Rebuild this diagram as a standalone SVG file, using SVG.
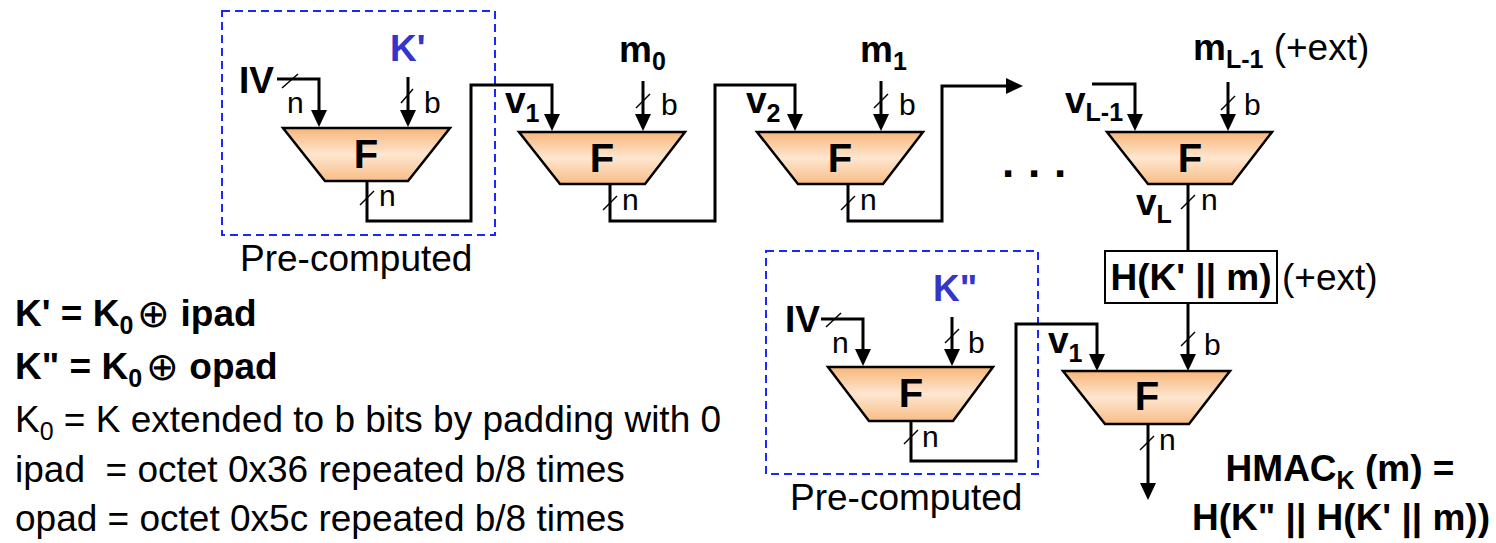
<svg xmlns="http://www.w3.org/2000/svg" width="1496" height="543" viewBox="0 0 1496 543">
<style>
text{font-family:"Liberation Sans",Arial,sans-serif;fill:#000}
.b{font-weight:bold;font-size:37px}
.n{font-size:37px}
.s{font-size:30px}
.f{font-weight:bold;font-size:40px;text-anchor:middle}
.blue{fill:#3535c8}
.sub{font-size:25px}
.ox{font-weight:200;font-family:"DejaVu Sans",sans-serif;font-size:39px}
.trap{fill:url(#g);stroke:#000;stroke-width:2.5;stroke-linejoin:miter}
.dash{fill:none;stroke:#1a28ff;stroke-width:2;stroke-dasharray:8 5}
.c{fill:none;stroke:#000;stroke-width:3}
.a{marker-end:url(#ah)}
.sl{stroke:#000;stroke-width:1.5}
</style>
<defs>
<linearGradient id="g" x1="0" y1="0" x2="0" y2="1">
<stop offset="0" stop-color="#f7b67a"/>
<stop offset="0.5" stop-color="#fee6d0"/>
<stop offset="1" stop-color="#f8bd86"/>
</linearGradient>
<marker id="ah" markerUnits="userSpaceOnUse" markerWidth="17" markerHeight="16" viewBox="0 0 17 16" refX="7" refY="8" orient="auto">
<path d="M0,0 L17,8 L0,16 z" fill="#000"/>
</marker>
</defs>

<g id="precomp1">
<rect class="dash" x="222" y="11" width="273" height="224"/>
<text class="n" x="240" y="271">Pre-computed</text>
</g>
<g id="precomp2">
<rect class="dash" x="766" y="251" width="272" height="223"/>
<text class="n" x="790" y="510">Pre-computed</text>
</g>

<g id="connectors">
<path class="c a" d="M277,79 H319 V117"/>
<path class="c a" d="M408,77 V117"/>
<path class="c a" d="M367,181 V221 H471 V85 H552 V121"/>
<path class="c a" d="M643,81 V121"/>
<path class="c a" d="M610,184 V221 H715 V85 H795 V121"/>
<path class="c a" d="M881,81 V121"/>
<path class="c a" d="M848,184 V221 H942 V86 H1013"/>
<path class="c a" d="M1092,84 H1135 V121"/>
<path class="c a" d="M1228,82 V121"/>
<path class="c" d="M1188,184 V251"/>
<path class="c a" d="M1188,303 V361"/>
<path class="c a" d="M821,319 H863 V356"/>
<path class="c a" d="M952,317 V356"/>
<path class="c a" d="M911,421 V461 H1016 V324 H1097 V361"/>
<path class="c a" d="M1148,424 V490"/>
<g id="slashes">
<line class="sl" x1="282" y1="88" x2="298" y2="74"/>
<line class="sl" x1="401" y1="103" x2="413" y2="89"/>
<line class="sl" x1="360" y1="205" x2="374" y2="191"/>
<line class="sl" x1="636" y1="108" x2="650" y2="94"/>
<line class="sl" x1="603" y1="210" x2="617" y2="196"/>
<line class="sl" x1="874" y1="108" x2="888" y2="94"/>
<line class="sl" x1="841" y1="210" x2="855" y2="196"/>
<line class="sl" x1="1221" y1="110" x2="1235" y2="96"/>
<line class="sl" x1="1181" y1="209" x2="1195" y2="195"/>
<line class="sl" x1="1181" y1="346" x2="1195" y2="332"/>
<line class="sl" x1="826" y1="327" x2="841" y2="313"/>
<line class="sl" x1="945" y1="343" x2="959" y2="329"/>
<line class="sl" x1="904" y1="444" x2="918" y2="430"/>
<line class="sl" x1="1140" y1="450" x2="1154" y2="436"/>
</g>
</g>

<g id="F1">
<polygon class="trap" points="283,128 450,128 408,181 325,181"/>
<text class="f" x="366" y="168">F</text>
<text class="b" x="239" y="93">IV</text>
<text class="b blue" x="390" y="61">K'</text>
<text class="s" x="287" y="113">n</text>
<text class="s" x="424" y="113">b</text>
<text class="s" x="379" y="206">n</text>
</g>

<g id="F2">
<polygon class="trap" points="519,132 685,132 645,184 560,184"/>
<text class="f" x="602" y="172">F</text>
<text class="b" x="505" y="113">v<tspan class="sub" dy="9">1</tspan></text>
<text class="b" x="619" y="62">m<tspan class="sub" dy="8">0</tspan></text>
<text class="s" x="661" y="115">b</text>
<text class="s" x="622" y="210">n</text>
</g>

<g id="F3">
<polygon class="trap" points="757,132 923,132 883,184 798,184"/>
<text class="f" x="840" y="172">F</text>
<text class="b" x="746" y="113">v<tspan class="sub" dy="9">2</tspan></text>
<text class="b" x="860" y="62">m<tspan class="sub" dy="8">1</tspan></text>
<text class="s" x="899" y="115">b</text>
<text class="s" x="860" y="210">n</text>
</g>

<g id="dots">
<text x="1002" y="177" font-size="44" font-weight="bold" letter-spacing="0.8">. . .</text>
</g>

<g id="F4">
<polygon class="trap" points="1107,132 1272,132 1232,184 1148,184"/>
<text class="f" x="1190" y="172">F</text>
<text class="b" x="1065" y="113">v<tspan class="sub" dy="8">L-1</tspan></text>
<text class="b" x="1193" y="60">m<tspan class="sub" dy="8">L-1</tspan><tspan class="n" font-weight="normal" dy="-8"> (+ext)</tspan></text>
<text class="s" x="1244" y="115">b</text>
<text class="s" x="1201" y="210">n</text>
<text class="b" x="1136" y="215">v<tspan class="sub" dy="8">L</tspan></text>
</g>

<g id="Hbox">
<rect x="1105" y="251" width="172" height="52" fill="#fff" stroke="#000" stroke-width="2"/>
<text class="b" x="1191" y="290" text-anchor="middle">H(K' || m)</text>
<text class="n" x="1282" y="290">(+ext)</text>
</g>

<g id="F5">
<polygon class="trap" points="828,367 993,367 953,421 869,421"/>
<text class="f" x="911" y="407">F</text>
<text class="b" x="785" y="332">IV</text>
<text class="b blue" x="933" y="301">K"</text>
<text class="s" x="832" y="353">n</text>
<text class="s" x="968" y="353">b</text>
<text class="s" x="922" y="447">n</text>
</g>

<g id="F6">
<polygon class="trap" points="1063,371 1230,371 1189,424 1105,424"/>
<text class="f" x="1147" y="410">F</text>
<text class="b" x="1048" y="353">v<tspan class="sub" dy="9">1</tspan></text>
<text class="s" x="1204" y="355">b</text>
<text class="s" x="1159" y="450">n</text>
</g>

<g id="result">
<text class="b" x="1340" y="481" text-anchor="middle">HMAC<tspan class="sub" dy="8">K</tspan><tspan dy="-8"> (m) =</tspan></text>
<text class="b" x="1341" y="530" text-anchor="middle">H(K" || H(K' || m))</text>
</g>

<g id="legend">
<text class="b" x="15" y="326">K' = K<tspan class="sub" dy="8">0</tspan><tspan class="ox" dx="4" dy="-7">⊕</tspan><tspan dy="-1"> ipad</tspan></text>
<text class="b" x="15" y="379">K" = K<tspan class="sub" dy="8">0</tspan><tspan class="ox" dx="4" dy="-7">⊕</tspan><tspan dy="-1"> opad</tspan></text>
<text class="n" x="15" y="432">K<tspan class="sub" dy="8">0</tspan><tspan dy="-8"> = K extended to b bits by padding with 0</tspan></text>
<text class="n" x="15" y="482">ipad&#160; = octet 0x36 repeated b/8 times</text>
<text class="n" x="15" y="531">opad = octet 0x5c repeated b/8 times</text>
</g>
</svg>
